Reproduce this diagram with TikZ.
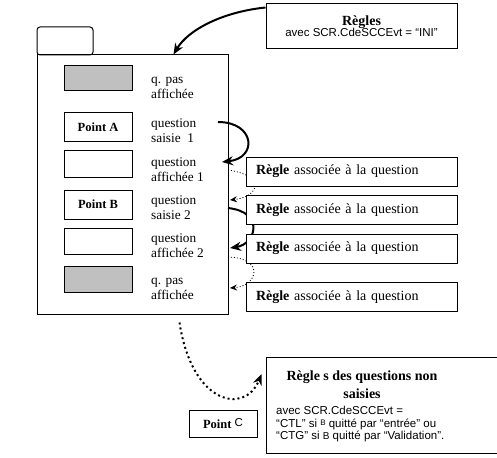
\documentclass[tikz,border=0pt]{standalone}
\usepackage{fontspec}
\setmainfont{Liberation Serif}
\newfontfamily\arialfont{Liberation Sans}
\usetikzlibrary{arrows.meta}
\definecolor{QGris}{HTML}{C0C0C0}
\newcommand{\etiqsize}{\fontsize{13.3}{15.5}\selectfont}
\newcommand{\reglesize}{\fontsize{14}{16}\selectfont}
\newcommand{\petitarial}{\arialfont\fontsize{11.5}{12.5}\selectfont}
\newcommand{\petitB}[1]{\raisebox{2pt}{\fontsize{#1}{#1}\selectfont B}}
\pgfdeclarelayer{fond}
\pgfsetlayers{fond,main}
\tikzset{
  qbox/.style={draw, line width=1pt, minimum width=68pt, inner sep=0pt,
    font=\bfseries\fontsize{12.5}{14}\selectfont},
  etiq/.style={anchor=west, align=left, inner sep=2pt, font=\etiqsize},
  regle/.style={draw, fill=white, line width=1pt, text width=191pt, align=left,
    inner xsep=10pt, inner ysep=0pt, minimum height=29pt, font=\reglesize},
  fleche/.style={line width=2pt, -{Stealth[length=11pt,width=9pt]}},
  pointille/.style={line width=0.8pt, dash pattern=on 1pt off 2pt,
    -{Stealth[length=7pt,width=6pt]}},
  grospoint/.style={line width=2pt, dash pattern=on 2pt off 3pt,
    -{Stealth[length=11pt,width=9pt]}}
}

\begin{document}
\begin{tikzpicture}[x=1pt, y=-1pt]
  \path[use as bounding box] (0,0) rectangle (497,457);
  \clip (0,0) rectangle (497,457);

  % the screen with its tab
  \node[draw, line width=1pt, rounded corners=3pt, minimum width=56pt,
    minimum height=28pt] (onglet) at (65,41) {};
  \node[draw, line width=1pt, minimum width=191pt, minimum height=259pt]
    (ecran) at (132.5,184.5) {};

  % the question boxes
  \node[qbox, fill=QGris, minimum height=25pt] (g1) at (98,78) {};
  \node[qbox, minimum height=29pt] (pA) at (98,127.5) {Point A};
  \node[qbox, minimum height=26pt] (e1) at (98,164) {};
  \node[qbox, minimum height=29pt] (pB) at (98,204.5) {Point B};
  \node[qbox, minimum height=26pt] (e2) at (98,241) {};
  \node[qbox, fill=QGris, minimum height=26pt] (g2) at (98,279) {};

  \node[etiq] (l1) at (149,88) {q. pas\\affichée};
  \node[etiq] (l2) at (149,130.5) {question\\saisie\ \ 1};
  \node[etiq] (l3) at (149,169.5) {question\\affichée 1};
  \node[etiq] (l4) at (149,207.5) {question\\saisie 2};
  \node[etiq] (l5) at (149,245.5) {question\\affichée 2};
  \node[etiq] (l6) at (149,289) {q. pas\\affichée};

  % the rules
  \node[draw, line width=1pt, minimum width=191pt, minimum height=45pt,
    align=center, inner sep=0pt] (regI) at (361.5,26.5)
    {{\bfseries\fontsize{14}{16}\selectfont Règles}\\[-1pt]{\petitarial avec SCR.CdeSCCEvt = “INI”}};
  \foreach \y/\n in {171.5/r1, 210/r2, 248.5/r3, 297/r4}
    \node[regle] (\n) at (351.5,\y) {\textbf{Règle} associée à la question};

  \node[qbox, minimum height=27pt] (pC) at (223,423.5)
    {Point \raisebox{1.5pt}{\arialfont\mdseries\fontsize{11.5}{12}\selectfont C}};
  \node[draw, line width=1pt, minimum width=254pt, minimum height=96pt]
    (regC) at (393,405) {};
  \node[align=center, font=\bfseries\reglesize, inner sep=0pt] (titC)
    at (362,385) {Règle s des questions non\\[2pt]saisies};
  \node[anchor=west, align=left, inner sep=0pt, font=\petitarial] (txtC)
    at (276,424.5) {avec SCR.CdeSCCEvt =\\
    “CTL” si \petitB{8} quitté par “entrée” ou\\
    “CTG” si {\fontsize{10}{10}\selectfont B} quitté par “Validation”.};

  % free ends of the connectors
  \coordinate (s1) at (218,122);
  \coordinate (a1) at (222,162);
  \coordinate (s2) at (228,170);
  \coordinate (a2) at (230,200);
  \coordinate (s3) at (228,208);
  \coordinate (a3) at (230,248);
  \coordinate (s4) at (228,257);
  \coordinate (a4) at (230,288);

  % draw the connectors below the rule boxes
  \begin{pgfonlayer}{fond}
    \draw[fleche] ([yshift=-4pt]regI.north west)
      .. controls (222,12) and (188,30) .. ([xshift=41pt]ecran.north);
    \draw[fleche] (s1) .. controls (255,122) and (258,158) .. (a1);
    \draw[pointille] (s2) .. controls (268,176) and (258,197) .. (a2);
    \draw[fleche] (s3) .. controls (265,212) and (256,244) .. (a3);
    \draw[pointille] (s4) .. controls (265,258) and (258,286) .. (a4);
    \draw[grospoint] ([xshift=47pt,yshift=-8pt]ecran.south)
      .. controls (192,405) and (245,415) .. ([xshift=-4pt,yshift=31pt]regC.west);
  \end{pgfonlayer}

\end{tikzpicture}
\end{document}
